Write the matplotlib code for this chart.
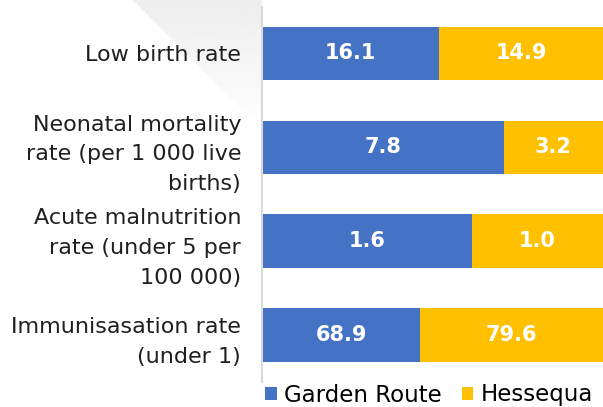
import matplotlib.pyplot as plt
import numpy as np
from matplotlib.patches import Polygon

categories = ["Low birth rate",
              "Neonatal mortality\nrate (per 1 000 live\nbirths)",
              "Acute malnutrition\nrate (under 5 per\n100 000)",
              "Immunisasation rate\n(under 1)"]
garden_route = [16.1, 7.8, 1.6, 68.9]
hessequa = [14.9, 3.2, 1.0, 79.6]
series_names = ["Garden Route", "Hessequa"]
colors = ["#4472C4", "#FFC000"]

plt.rcParams['font.family'] = ['DejaVu Sans']

fig = plt.figure(figsize=(6.03, 4.07), dpi=100)
W, H = 603, 407

# faint grey wedge in the top left corner, fading out downwards
bg = fig.add_axes([0, 0, 1, 1], zorder=-10)
bg.set_xlim(0, W)
bg.set_ylim(H, 0)
bg.axis("off")
grad = np.linspace(0.93, 1.0, 256).reshape(-1, 1)
img = bg.imshow(grad, cmap="gray", vmin=0, vmax=1, aspect="auto",
                extent=(133, 262, 130, 0))
tri = Polygon([(133, 0), (262, 0), (262, 130)], closed=True,
              facecolor="none", edgecolor="none")
bg.add_patch(tri)
img.set_clip_path(tri)
bg.set_xlim(0, W)
bg.set_ylim(H, 0)

ax = fig.add_axes([262 / W, 1 - 382 / H, 1 - 262 / W, (382 - 6.5) / H])
ax.patch.set_alpha(0)

gr = np.array(garden_route)
he = np.array(hessequa)
total = gr + he
gr_pct = gr / total
he_pct = he / total

y = np.arange(len(categories))
b1 = ax.barh(y, gr_pct, height=0.57, color=colors[0], label=series_names[0])
b2 = ax.barh(y, he_pct, left=gr_pct, height=0.57, color=colors[1], label=series_names[1])

for bars, vals in [(b1, garden_route), (b2, hessequa)]:
    for bar, v in zip(bars, vals):
        ax.text(bar.get_x() + bar.get_width() / 2, bar.get_y() + bar.get_height() / 2,
                f"{v:.1f}", ha="center", va="center", color="white",
                fontsize=15, fontweight="bold")

ax.set_xlim(0, 1)
ax.set_ylim(len(categories) - 0.5, -0.5)
ax.set_yticks(y)
ax.set_yticklabels(categories, fontsize=16, color="#1f1f1f", linespacing=1.6)
ax.tick_params(axis="y", length=0, pad=15)
ax.set_xticks([])
for s in ["top", "right", "bottom"]:
    ax.spines[s].set_visible(False)
ax.spines["left"].set_color("#d9d9d9")
ax.spines["left"].set_linewidth(1.5)

fig.legend(handles=[b1, b2], labels=series_names, loc="center",
           bbox_to_anchor=(429 / W, 1 - 395 / H), ncol=2, frameon=False,
           fontsize=16.5, handlelength=0.5, handleheight=0.5,
           handletextpad=0.3, columnspacing=0.9, borderaxespad=0)

fig.savefig("out.png", dpi=100)
